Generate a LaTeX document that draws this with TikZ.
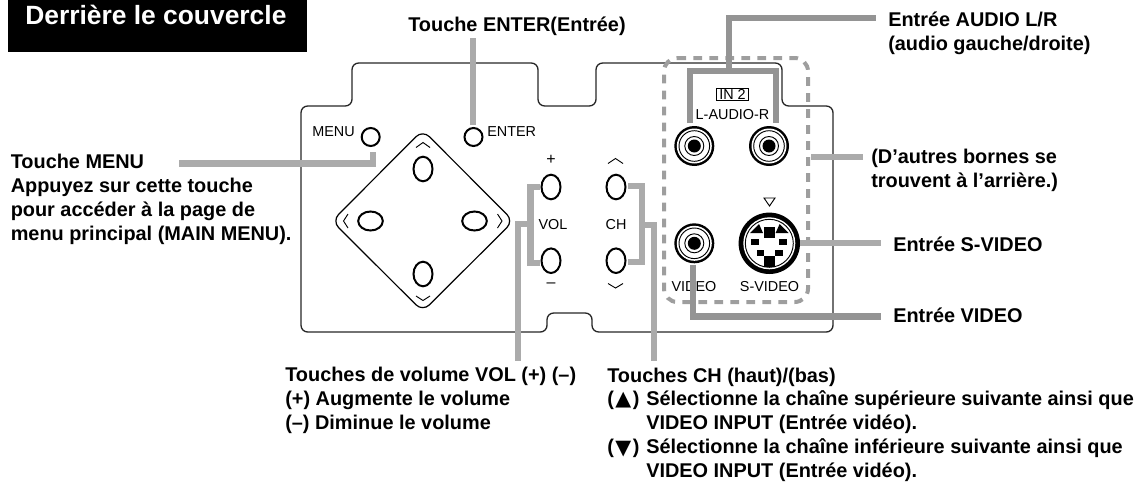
\documentclass[tikz,border=0pt]{standalone}
\usepackage{fontspec}
\setmainfont{Liberation Sans}
\newfontfamily\dejavu{DejaVu Sans}
\tikzset{
 x=0.75pt,y=-0.75pt,
 lab/.style={font=\fontsize{14.92pt}{17.9pt}\selectfont\bfseries,align=left,inner sep=0pt,anchor=base west},
 small/.style={font=\fontsize{10.8pt}{12pt}\selectfont,inner sep=0pt,text=black},
 lead/.style={draw=black!33,line width=5.2pt,line cap=butt,line join=miter},
 leadd/.style={draw=black!42,line width=5.2pt,line cap=butt,line join=miter},
 outline/.style={draw=black!85,line width=1pt,rounded corners=5pt},
 btn/.style={draw=black,line width=1.5pt,fill=white},
 caret/.style={draw=black,line width=.7pt},
}
\newcommand{\jack}[2]{%
 \fill[black] (#1,#2) circle (20);
 \fill[white] (#1,#2) circle (17.5);
 \draw[black,line width=.7pt] (#1,#2) circle (15.3);
 \draw[black,line width=.7pt] (#1,#2) circle (9.5);
 \fill[black] (#1,#2) circle (6.5);}
\newcommand{\trig}[2]{\makebox[14.2pt]{\raisebox{#1}{\dejavu\fontsize{15.5pt}{16pt}\selectfont #2}}}
\begin{document}
\begin{tikzpicture}
\useasboundingbox (0,0) rectangle (1138,482);
% header
\fill[black] (8,0) rectangle (307,52);
\node[font=\fontsize{19.8pt}{22pt}\selectfont\bfseries,text=white,inner sep=0pt,anchor=base west] (title) at (25,24) {Derrière le couvercle};
% outline
\draw[outline] (301,106) -- (352,106) -- (352,63) -- (538,63) -- (538,106) -- (596,106) -- (596,63) -- (782,63) -- (782,106) -- (833,106) -- (833,332) -- (592,332) -- (592,313) -- (547,313) -- (547,332) -- (301,332) -- cycle;
% diamond
\draw[black,line width=.9pt,rounded corners=7pt] (422.7,130) -- (513.5,221) -- (422.7,311.5) -- (332,221) -- cycle;
% carets
\draw[caret] (416,147.5) -- (423,142.5) -- (430,147.5);
\draw[caret] (416,296) -- (423,300.5) -- (430,296);
\draw[caret] (348,214) -- (343.5,221) -- (348,228);
\draw[caret] (497.5,214) -- (502,221) -- (497.5,228);
% buttons
\draw[btn] (423,169) ellipse (9.5 and 12.3);
\draw[btn] (423,274) ellipse (9.5 and 12.3);
\draw[btn] (370.5,221) ellipse (12.3 and 9.5);
\draw[btn] (474.5,221) ellipse (12.3 and 9.5);
\draw[btn] (370.7,137) circle (9);
\draw[btn] (473.5,137) circle (9);
\draw[btn] (551,187) ellipse (9.5 and 12.3);
\draw[btn] (551,260.7) ellipse (9.5 and 12.3);
\draw[btn] (616,187) ellipse (9.5 and 12.3);
\draw[btn] (616,260.7) ellipse (9.5 and 12.3);
% small labels
\node[small,anchor=base west] (lmenu) at (312,136) {MENU};
\node[small,anchor=base west] (lenter) at (487,136) {ENTER};
\node[small] (lvol) at (553,225) {VOL};
\node[small] (lch) at (616,225) {CH};
\node[small,font=\fontsize{12pt}{13pt}\selectfont] (lplus) at (551,160) {+};
\node[small,font=\fontsize{12pt}{13pt}\selectfont] (lminus) at (551,285) {–};
\draw[caret] (608,163.5) -- (615.5,158.5) -- (623,163.5);
\draw[caret] (608,283.5) -- (615.5,288) -- (623,283.5);
% jacks
\jack{694.3}{146}
\jack{769}{146}
\jack{694.3}{243.3}
% S-video
\fill[black] (769.3,243.3) circle (30.7);
\fill[white] (769.3,243.3) circle (26);
\draw[black,line width=.7pt] (769.3,243.3) circle (24);
\fill[black] (750,233) -- (759,224) -- (763,233) -- cycle;
\fill[black] (788.6,233) -- (779.6,224) -- (775.6,233) -- cycle;
\fill[black] (764,227) rectangle (775,238);
\fill[black] (751,239) rectangle (759,245);
\fill[black] (779,239) rectangle (787,245);
\fill[black] (757,250) rectangle (764,256);
\fill[black] (775,250) rectangle (783,256);
\fill[black] (764,256) rectangle (775,267);
\draw[caret] (764,198) -- (775,198) -- (769.5,206) -- cycle;
% dashed frame
\draw[draw=black!38,line width=3pt,dash pattern=on 6.5pt off 5.5pt,rounded corners=10pt] (664,58) -- (808,58) -- (808,302) -- (664,302) -- cycle;
% IN 2
\node[small,draw=black,line width=.6pt,inner xsep=2pt,inner ysep=1pt] (in2) at (732.5,94.5) {IN 2};
\node[small] (laudio) at (732.5,115) {L-AUDIO-R};
\node[small] (lvideo) at (694,287) {VIDEO};
\node[small] (lsvideo) at (769.5,287) {S-VIDEO};
% leaders
\coordinate (m0) at (179,163.5); \coordinate (m1) at (373,163.5); \coordinate (m2) at (373,152);
\draw[lead] (m0) -- (m1) -- (m2);
\coordinate (e0) at (473,38); \coordinate (e1) at (473,125);
\draw[lead] (e0) -- (e1);
\draw[lead] (540,187) -- (530.5,187) -- (530.5,263) -- (540,263);
\draw[lead] (530.5,224) -- (518,224) -- (518,361);
\draw[lead] (628,186) -- (642,186) -- (642,262) -- (628,262);
\draw[lead] (642,225) -- (654,225) -- (654,361);
\draw[leadd] (690,123) -- (690,71) -- (776,71) -- (776,123);
\draw[leadd] (729,71) -- (729,18) -- (876,18);
\draw[lead] (811,157) -- (863,157);
\draw[lead] (800,243) -- (881,243);
\draw[leadd] (693,265) -- (693,316.5) -- (881,316.5);
% labels
\node[lab] (t1) at (408,31) {Touche ENTER(Entrée)};
\node[lab] (t2) at (888,50) {Entrée AUDIO L/R\\(audio gauche/droite)};
\node[lab] (t3) at (10.5,240) {Touche MENU\\Appuyez sur cette touche\\pour accéder à la page de\\menu principal (MAIN MENU).};
\node[lab] (t4) at (871,187) {(D’autres bornes se\\trouvent à l’arrière.)};
\node[lab] (t5) at (893,251) {Entrée S-VIDEO};
\node[lab] (t6) at (893,322) {Entrée VIDEO};
\node[lab] (t7) at (285,429) {Touches de volume VOL (+) (–)\\(+) Augmente le volume\\(–) Diminue le volume};
\node[lab] (t8) at (607,382) {Touches CH (haut)/(bas)};
\node[lab] (t9a) at (607,405) {(\trig{-.6pt}{▲})};
\node[lab] (t9) at (646,405) {Sélectionne la chaîne supérieure suivante ainsi que};
\node[lab] (t10) at (646,429) {VIDEO INPUT (Entrée vidéo).};
\node[lab] (t11a) at (607,453) {(\trig{-1.4pt}{▼})};
\node[lab] (t11) at (646,453) {Sélectionne la chaîne inférieure suivante ainsi que};
\node[lab] (t12) at (646,477) {VIDEO INPUT (Entrée vidéo).};
\end{tikzpicture}
\end{document}
